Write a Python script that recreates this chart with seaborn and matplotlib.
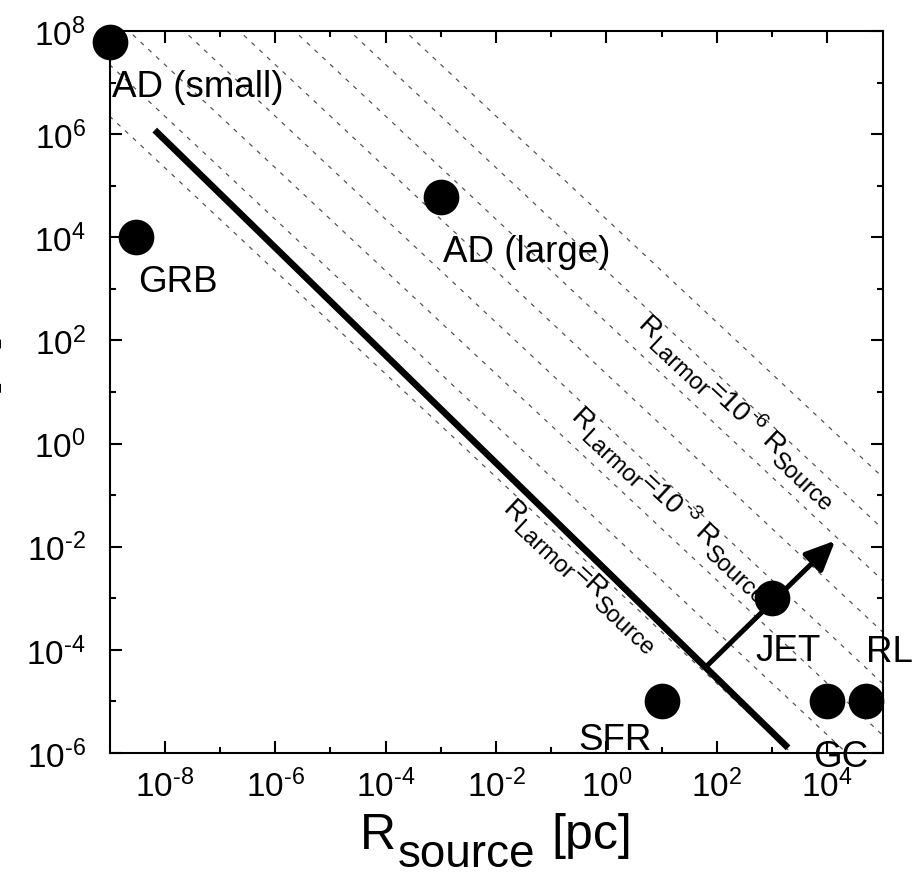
import numpy as np
import pandas as pd
import matplotlib
matplotlib.use("Agg")
import matplotlib.pyplot as plt
from matplotlib.ticker import FixedLocator, FixedFormatter, NullFormatter
from matplotlib.transforms import IdentityTransform
from matplotlib.font_manager import FontProperties
import seaborn as sns

# ---------------------------------------------------------------- data
source_names = ["AD (small)", "GRB", "AD (large)", "JET", "SFR", "GC", "RL"]
source_size_pc = [1e-9, 3e-9, 1e-3, 1e3, 1e1, 1e4, 5e4]
source_field_G = [6e7, 1e4, 6e4, 1e-3, 1e-5, 1e-5, 1e-5]

# log10(B R) of the guide lines of constant R_Larmor / R_source
guide_log_BR = [-2.65, -1.65, -0.65, 0.35, 1.35, 2.35, 3.35, 4.35]

# Hillas limit (end points of the solid line)
hillas_size_pc = [6.6e-9, 1.95e3]
hillas_field_G = [1.2e6, 1.26e-6]

# direction of growing maximum energy
arrow_size_pc = [66.7, 1.39e4]
arrow_field_G = [4.94e-5, 1.31e-2]

# labelled guide lines: log10(B R), log10 R at the start of the text, exponent
larmor_log_BR = [-2.65, 0.35, 3.35]
larmor_start_logR = [-1.65, -0.42, 0.79]
larmor_exponent = [None, "-3", "-6"]

x_tick_exp = [-8, -6, -4, -2, 0, 2, 4]
x_minor_exp = [-7, -5, -3, -1, 1, 3]
y_tick_exp = [-6, -4, -2, 0, 2, 4, 6, 8]
y_minor_exp = [-5, -3, -1, 1, 3, 5, 7]

# label placement relative to each source, in pixels (right, up)
label_offset_px = {
    "AD (small)": (2, -54),
    "GRB": (2, -54),
    "AD (large)": (2, -64),
    "JET": (-17, -62),
    "SFR": (-83, -48),
    "GC": (-14, -65),
    "RL": (0, 40),
}

# ---------------------------------------------------------------- style
sns.set_theme(style="white")
FAMILY = "Liberation Sans"
plt.rcParams["font.family"] = [FAMILY, "DejaVu Sans"]
plt.rcParams["mathtext.fontset"] = "custom"
plt.rcParams["mathtext.rm"] = FAMILY
plt.rcParams["mathtext.it"] = FAMILY + ":italic"
plt.rcParams["mathtext.bf"] = FAMILY + ":bold"

W, H, DPI = 913, 879, 100
fig = plt.figure(figsize=(W / DPI, H / DPI), dpi=DPI)
left, right, top, bottom = 109.5, 882.5, 32.0, 754.0
ax = fig.add_axes([left / W, 1 - bottom / H, (right - left) / W, (bottom - top) / H])
ax.set_xscale("log")
ax.set_yscale("log")
ax.set_xlim(1e-9, 1e5)
ax.set_ylim(1e-6, 1e8)

# guide lines B R = const
xr = np.array([1e-9, 1e5])
for c in guide_log_BR:
    ax.plot(xr, 10.0 ** c / xr, color="#555555", lw=0.9, ls=(0, (3.5, 5)), zorder=1)

# Hillas line
ax.plot(hillas_size_pc, hillas_field_G, color="black", lw=4.8,
        solid_capstyle="butt", zorder=3)

# arrow
ax.annotate("", xy=(arrow_size_pc[1], arrow_field_G[1]),
            xytext=(arrow_size_pc[0], arrow_field_G[0]),
            arrowprops=dict(arrowstyle="-|>,head_length=0.6,head_width=0.27",
                            lw=3.6, color="black", mutation_scale=30,
                            shrinkA=0, shrinkB=0),
            zorder=4)

# sources
df = pd.DataFrame({"name": source_names, "R": source_size_pc, "B": source_field_G})
sns.scatterplot(data=df, x="R", y="B", s=660, color="black", edgecolor="black",
                linewidth=0, ax=ax, zorder=5, clip_on=False, legend=False)
for name, r, b in zip(source_names, source_size_pc, source_field_G):
    dx, dy = label_offset_px[name]
    ax.annotate(name, xy=(r, b), xytext=(dx * 72 / DPI, dy * 72 / DPI),
                textcoords="offset points", ha="left", va="baseline",
                fontsize=26.5, color="black", annotation_clip=False, zorder=6)

# axes, ticks
ax.set_xlabel("")
ax.set_ylabel("")
for s in ax.spines.values():
    s.set_visible(True)
    s.set_color("black")
    s.set_linewidth(1.5)


def power_label(e):
    return r"$\mathregular{10^{\text{%d}}}$" % e


ax.xaxis.set_major_locator(FixedLocator(10.0 ** np.array(x_tick_exp, float)))
ax.xaxis.set_major_formatter(FixedFormatter([power_label(e) for e in x_tick_exp]))
ax.xaxis.set_minor_locator(FixedLocator(10.0 ** np.array(x_minor_exp, float)))
ax.xaxis.set_minor_formatter(NullFormatter())
ax.yaxis.set_major_locator(FixedLocator(10.0 ** np.array(y_tick_exp, float)))
ax.yaxis.set_major_formatter(FixedFormatter([power_label(e) for e in y_tick_exp]))
ax.yaxis.set_minor_locator(FixedLocator(10.0 ** np.array(y_minor_exp, float)))
ax.yaxis.set_minor_formatter(NullFormatter())
ax.tick_params(which="both", direction="in", top=True, right=True, bottom=True,
               left=True, width=1.5, color="black", labelcolor="black")
ax.tick_params(which="major", length=8.5, labelsize=24)
ax.tick_params(which="minor", length=4.0)
ax.tick_params(axis="x", which="major", pad=11)
ax.tick_params(axis="y", which="major", pad=17)


# ---------------------------------------------------------------- rich text
renderer = fig.canvas.get_renderer()


def text_width(text, size):
    w, _, _ = renderer.get_text_width_height_descent(
        text, FontProperties(family=FAMILY, size=size), ismath=False)
    return w


def rich_text(start, angle, pieces):
    """Lay out (text, size, shift_px, gap_px) pieces along a baseline."""
    th = np.deg2rad(angle)
    along = np.array([np.cos(th), np.sin(th)])
    up = np.array([-np.sin(th), np.cos(th)])
    pos = np.asarray(start, float)
    for text, size, shift, gap in pieces:
        pos = pos + along * gap
        p = pos + up * shift
        fig.text(p[0], p[1], text, transform=IdentityTransform(), fontsize=size,
                 family=FAMILY, rotation=angle, rotation_mode="anchor",
                 ha="left", va="baseline", color="black")
        pos = pos + along * text_width(text, size)


def rich_width(pieces):
    return sum(gap + text_width(t, s) for t, s, _, gap in pieces)


# x label, centred under the axes
xl = [("R", 36, 0, 0), ("source", 33, -18, 2), ("[pc]", 36, 0, 16)]
x_mid = (left + right) / 2
rich_text((x_mid - rich_width(xl) / 2, H - 849), 0, xl)

# y label, mostly outside the figure
fig.text(2 / W, 1 - 386 / H, "B [G]", rotation=90, ha="right", va="center",
         fontsize=32, color="black")

# labels on the guide lines
p0 = ax.transData.transform((1.0, 1.0))
p1 = ax.transData.transform((10.0, 0.1))
angle = np.degrees(np.arctan2(p1[1] - p0[1], p1[0] - p0[0]))
MAIN, SUB, SUP = 20, 17, 15
cap = 0.716 * MAIN * DPI / 72
th = np.deg2rad(angle)
up = np.array([-np.sin(th), np.cos(th)])
for c, lr, ex in zip(larmor_log_BR, larmor_start_logR, larmor_exponent):
    anchor = ax.transData.transform((10.0 ** lr, 10.0 ** (c - lr)))
    start = anchor - up * cap
    if ex is None:
        pieces = [("R", MAIN, 0, 0), ("Larmor", SUB, -8, 0), ("=", MAIN, 0, 0),
                  ("R", MAIN, 0, 0), ("Source", SUB, -8, 0)]
    else:
        pieces = [("R", MAIN, 0, 0), ("Larmor", SUB, -8, 0), ("=10", MAIN, 0, 0),
                  (ex, SUP, 11, 1), ("R", MAIN, 0, 8), ("Source", SUB, -8, 0)]
    rich_text(start, angle, pieces)

fig.savefig("out.png", dpi=DPI)
